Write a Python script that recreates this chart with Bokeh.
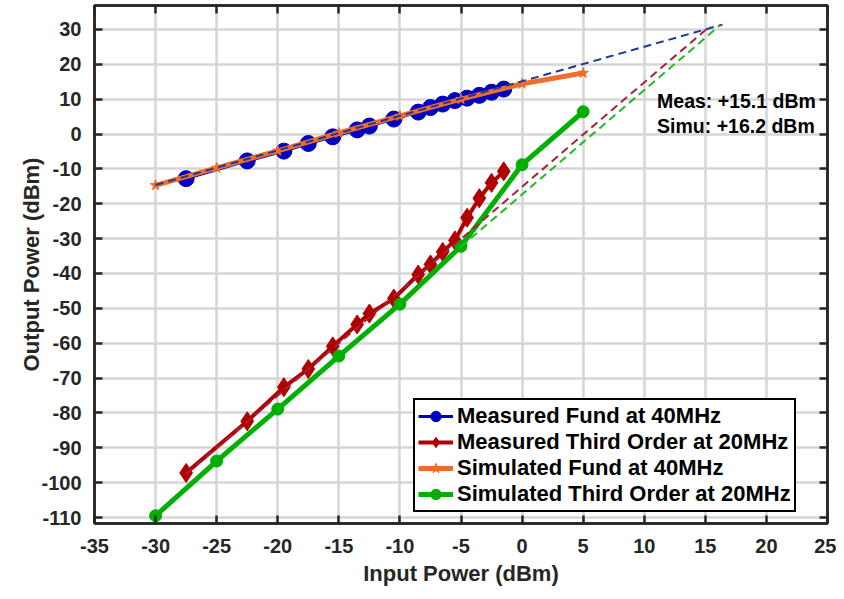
from bokeh.plotting import figure
from bokeh.models import LinearAxis, FixedTicker, Legend, LegendItem, Label, Range1d
from bokeh.embed import file_html
from bokeh.resources import INLINE

# ---------------- data ----------------
meas_x = [-27.5, -22.5, -19.5, -17.5, -15.5, -13.5, -12.5, -10.5, -8.5, -7.5, -6.5, -5.5, -4.5, -3.5, -2.5, -1.5]
meas_fund = [-12.8, -7.7, -4.9, -2.7, -0.8, 1.2, 2.3, 4.3, 6.3, 7.6, 8.6, 9.6, 10.3, 11.1, 12.0, 12.9]
meas_third = [-97.2, -82.4, -72.6, -67.4, -60.9, -54.6, -51.5, -47.2, -40.3, -37.4, -33.8, -30.5, -24.0, -18.4, -14.0, -10.7]

sim_x = [-30, -25, -20, -15, -10, -5, 0, 5]
sim_fund = [-14.7, -9.7, -4.8, 0.3, 5.2, 10.0, 14.4, 17.5]
sim_third = [-109.5, -93.8, -78.9, -63.7, -48.8, -32.2, -8.8, 6.4]

fit_fund_x = [-30, 16.4]
fit_fund_y = [-14.6, 31.4]
fit_meas3_x = [-27.5, 15.4]
fit_meas3_y = [-97.5, 31.0]
fit_sim3_x = [-5, 16.2]
fit_sim3_y = [-32.3, 31.2]

x_ticks = [-35, -30, -25, -20, -15, -10, -5, 0, 5, 10, 15, 20, 25]
y_ticks = [-110, -100, -90, -80, -70, -60, -50, -40, -30, -20, -10, 0, 10, 20, 30]

labels = ["Measured Fund at 40MHz", "Measured Third Order at 20MHz",
          "Simulated Fund at 40MHz", "Simulated Third Order at 20MHz"]
note_texts = ["Meas: +15.1 dBm", "Simu: +16.2 dBm"]
note_x = [11.05, 11.05]
note_y = [9.5, 2.3]

FONT = "Liberation Sans"
DARK = "#262626"

p = figure(width=836, height=591,
           x_range=Range1d(-35, 25), y_range=Range1d(-111.72, 36.88),
           output_backend="svg", toolbar_location=None,
           min_border_left=94, min_border_right=9, min_border_top=5, min_border_bottom=68)
p.background_fill_color = "white"
p.border_fill_color = "white"
p.outline_line_color = DARK
p.outline_line_width = 2.5

# grid
for g in (p.xgrid, p.ygrid):
    g.grid_line_color = "#d6d6d6"
    g.grid_line_width = 2.5
p.xgrid.ticker = FixedTicker(ticks=x_ticks)
p.ygrid.ticker = FixedTicker(ticks=y_ticks)

def style_axis(ax, ticks, show_labels=True):
    ax.ticker = FixedTicker(ticks=ticks)
    ax.axis_line_color = DARK
    ax.axis_line_width = 2.5
    ax.major_tick_line_color = DARK
    ax.major_tick_line_width = 2.5
    ax.major_tick_in = 8
    ax.major_tick_out = 0
    ax.minor_tick_line_color = None
    if show_labels:
        ax.major_label_overrides = {t: str(t) for t in ticks}
        ax.major_label_text_font = FONT
        ax.major_label_text_font_style = "bold"
        ax.major_label_text_font_size = "20px"
        ax.major_label_text_color = DARK
        ax.axis_label_text_font = FONT
        ax.axis_label_text_font_style = "bold"
        ax.axis_label_text_font_size = "22px"
        ax.axis_label_text_color = DARK
    else:
        ax.major_label_text_font_size = "0px"
        ax.major_label_standoff = 0

style_axis(p.xaxis[0], x_ticks)
style_axis(p.yaxis[0], y_ticks)
p.xaxis[0].axis_label = "Input Power (dBm)"
p.yaxis[0].axis_label = "Output Power (dBm)"
p.xaxis[0].major_label_standoff = 15
p.xaxis[0].axis_label_standoff = 5
p.yaxis[0].major_label_standoff = 13
p.yaxis[0].axis_label_standoff = -6

top_ax = LinearAxis()
style_axis(top_ax, x_ticks, show_labels=False)
p.add_layout(top_ax, "above")
right_ax = LinearAxis()
style_axis(right_ax, y_ticks, show_labels=False)
p.add_layout(right_ax, "right")

# series
BLUE = "#0000c0"
RED = "#b00000"
ORANGE = "#ee6c2c"
GREEN = "#00b000"

l1 = p.line(meas_x, meas_fund, line_color=BLUE, line_width=3)
m1 = p.scatter(meas_x, meas_fund, marker="circle", size=16, fill_color=BLUE, line_color=BLUE)

l2 = p.line(meas_x, meas_third, line_color=RED, line_width=4)
m2 = p.scatter(meas_x, meas_third, marker="diamond", size=19, fill_color=RED, line_color=RED)

l3 = p.line(sim_x, sim_fund, line_color=ORANGE, line_width=5)
m3 = p.scatter(sim_x, sim_fund, marker="star", size=11, fill_color=ORANGE, line_color=ORANGE)

l4 = p.line(sim_x, sim_third, line_color=GREEN, line_width=5)
m4 = p.scatter(sim_x, sim_third, marker="circle", size=12, fill_color=GREEN, line_color=GREEN)

p.line(fit_fund_x, fit_fund_y, line_color="#1f3a93", line_width=2, line_dash="8 5")
p.line(fit_meas3_x, fit_meas3_y, line_color="#a8203f", line_width=2, line_dash="8 5")
p.line(fit_sim3_x, fit_sim3_y, line_color="#22bb22", line_width=2, line_dash="8 5")

for t, x, y in zip(note_texts, note_x, note_y):
    p.add_layout(Label(x=x, y=y, text=t, text_font=FONT, text_font_style="bold",
                       text_font_size="19.5px", text_color="black", text_baseline="middle"))

legend = Legend(items=[
    LegendItem(label=labels[0], renderers=[l1, m1]),
    LegendItem(label=labels[1], renderers=[l2, m2]),
    LegendItem(label=labels[2], renderers=[l3, m3]),
    LegendItem(label=labels[3], renderers=[l4, m4]),
], location=(319, 11))
legend.border_line_color = "black"
legend.border_line_alpha = 1
legend.border_line_width = 2.5
legend.background_fill_color = "white"
legend.background_fill_alpha = 1
legend.label_text_font = FONT
legend.label_text_font_style = "bold"
legend.label_text_font_size = "22px"
legend.label_text_color = "black"
legend.glyph_width = 35
legend.glyph_height = 26
legend.label_height = 25
legend.label_standoff = 4
legend.spacing = 0
legend.padding = 3
legend.margin = 0
p.add_layout(legend)

open("out.html", "w").write(file_html(p, INLINE))
